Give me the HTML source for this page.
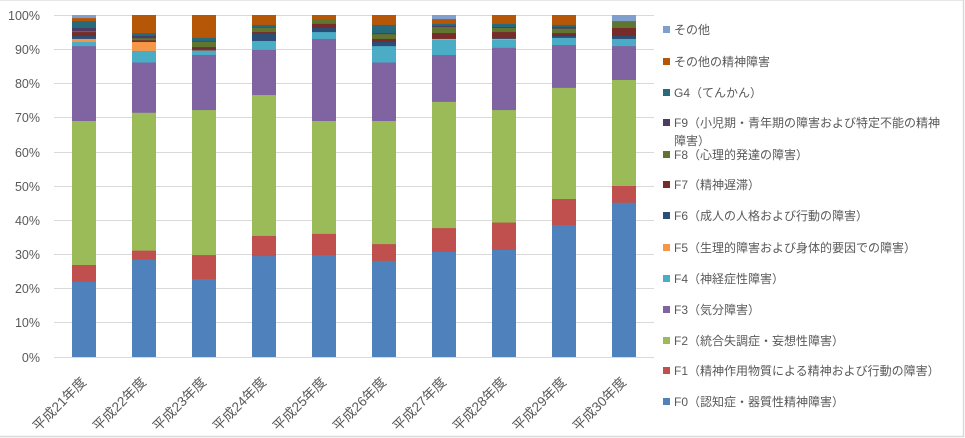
<!DOCTYPE html>
<html><head><meta charset="utf-8"><style>
html,body{margin:0;padding:0;background:#fff;}
svg{display:block;}
text{font-family:"Liberation Sans","Noto Sans CJK JP",sans-serif;fill:#595959;}
</style></head><body>
<svg width="965" height="438" viewBox="0 0 965 438" xmlns="http://www.w3.org/2000/svg">
<rect x="0" y="0" width="965" height="438" fill="#fff"/>
<!-- border -->
<line x1="0" y1="0.5" x2="964" y2="0.5" stroke="#e6e6e6" stroke-width="1"/>
<line x1="963.5" y1="0" x2="963.5" y2="437" stroke="#d9d9d9" stroke-width="1.5"/>
<line x1="0" y1="436.5" x2="964" y2="436.5" stroke="#d9d9d9" stroke-width="1.5"/>
<!-- gridlines -->
<g stroke="#d9d9d9" stroke-width="1">
<line x1="54" y1="15.5" x2="654" y2="15.5"/>
<line x1="54" y1="49.5" x2="654" y2="49.5"/>
<line x1="54" y1="83.5" x2="654" y2="83.5"/>
<line x1="54" y1="117.5" x2="654" y2="117.5"/>
<line x1="54" y1="152.5" x2="654" y2="152.5"/>
<line x1="54" y1="186.5" x2="654" y2="186.5"/>
<line x1="54" y1="220.5" x2="654" y2="220.5"/>
<line x1="54" y1="254.5" x2="654" y2="254.5"/>
<line x1="54" y1="288.5" x2="654" y2="288.5"/>
<line x1="54" y1="322.5" x2="654" y2="322.5"/>
<line x1="54" y1="357.5" x2="654" y2="357.5"/>
</g>
<!-- y labels -->
<g font-size="12.5" text-anchor="end">
<text x="40" y="20">100%</text>
<text x="40" y="54">90%</text>
<text x="40" y="88">80%</text>
<text x="40" y="122">70%</text>
<text x="40" y="157">60%</text>
<text x="40" y="191">50%</text>
<text x="40" y="225">40%</text>
<text x="40" y="259">30%</text>
<text x="40" y="293">20%</text>
<text x="40" y="327">10%</text>
<text x="40" y="362">0%</text>
</g>
<!-- bars: drawn top category first (full height), lower ones over -->
<!-- Bar1 -->
<g>
<rect x="72" y="15" width="24" height="342" fill="#7F9FD0"/>
<rect x="72" y="18.08" width="24" height="338.92" fill="#B65708"/>
<rect x="72" y="21.16" width="24" height="335.84" fill="#276A7C"/>
<rect x="72" y="28.0" width="24" height="329" fill="#4D3B62"/>
<rect x="72" y="31.07" width="24" height="325.93" fill="#5F7530"/>
<rect x="72" y="32.1" width="24" height="324.9" fill="#772C2A"/>
<rect x="72" y="35.86" width="24" height="321.14" fill="#2C4D75"/>
<rect x="72" y="38.94" width="24" height="318.06" fill="#F79646"/>
<rect x="72" y="42.02" width="24" height="314.98" fill="#4BACC6"/>
<rect x="72" y="46.12" width="24" height="310.88" fill="#8064A2"/>
<rect x="72" y="121.02" width="24" height="235.98" fill="#9BBB59"/>
<rect x="72" y="265.0" width="24" height="92" fill="#C0504D"/>
<rect x="72" y="281.76" width="24" height="75.24" fill="#4F81BD"/>
</g>
<!-- Bar2 -->
<g>
<rect x="132" y="15" width="24" height="342" fill="#B65708"/>
<rect x="132" y="33.13" width="24" height="323.87" fill="#276A7C"/>
<rect x="132" y="35.86" width="24" height="321.14" fill="#4D3B62"/>
<rect x="132" y="38.26" width="24" height="318.74" fill="#5F7530"/>
<rect x="132" y="40.31" width="24" height="316.69" fill="#772C2A"/>
<rect x="132" y="41.33" width="24" height="315.67" fill="#2C4D75"/>
<rect x="132" y="42.02" width="24" height="314.98" fill="#F79646"/>
<rect x="132" y="50.91" width="24" height="306.09" fill="#4BACC6"/>
<rect x="132" y="62.54" width="24" height="294.46" fill="#8064A2"/>
<rect x="132" y="112.81" width="24" height="244.19" fill="#9BBB59"/>
<rect x="132" y="250.64" width="24" height="106.36" fill="#C0504D"/>
<rect x="132" y="259.53" width="24" height="97.47" fill="#4F81BD"/>
</g>
<!-- Bar3 -->
<g>
<rect x="192" y="15" width="24" height="342" fill="#B65708"/>
<rect x="192" y="37.91" width="24" height="319.09" fill="#276A7C"/>
<rect x="192" y="40.99" width="24" height="316.01" fill="#4D3B62"/>
<rect x="192" y="41.68" width="24" height="315.32" fill="#5F7530"/>
<rect x="192" y="47.15" width="24" height="309.85" fill="#772C2A"/>
<rect x="192" y="48.86" width="24" height="308.14" fill="#2C4D75"/>
<rect x="192" y="50.57" width="24" height="306.43" fill="#F79646"/>
<rect x="192" y="50.91" width="24" height="306.09" fill="#4BACC6"/>
<rect x="192" y="55.01" width="24" height="301.99" fill="#8064A2"/>
<rect x="192" y="110.08" width="24" height="246.92" fill="#9BBB59"/>
<rect x="192" y="255.08" width="24" height="101.92" fill="#C0504D"/>
<rect x="192" y="279.02" width="24" height="77.98" fill="#4F81BD"/>
</g>
<!-- Bar4 -->
<g>
<rect x="252" y="15" width="24" height="342" fill="#B65708"/>
<rect x="252" y="24.92" width="24" height="332.08" fill="#276A7C"/>
<rect x="252" y="27.65" width="24" height="329.35" fill="#4D3B62"/>
<rect x="252" y="28.0" width="24" height="329" fill="#5F7530"/>
<rect x="252" y="32.1" width="24" height="324.9" fill="#772C2A"/>
<rect x="252" y="33.13" width="24" height="323.87" fill="#2C4D75"/>
<rect x="252" y="40.99" width="24" height="316.01" fill="#4BACC6"/>
<rect x="252" y="49.88" width="24" height="307.12" fill="#8064A2"/>
<rect x="252" y="95.03" width="24" height="261.97" fill="#9BBB59"/>
<rect x="252" y="235.93" width="24" height="121.07" fill="#C0504D"/>
<rect x="252" y="256.11" width="24" height="100.89" fill="#4F81BD"/>
</g>
<!-- Bar5 -->
<g>
<rect x="312" y="15" width="24" height="342" fill="#B65708"/>
<rect x="312" y="19.1" width="24" height="337.9" fill="#5F7530"/>
<rect x="312" y="23.89" width="24" height="333.11" fill="#772C2A"/>
<rect x="312" y="28.0" width="24" height="329" fill="#2C4D75"/>
<rect x="312" y="32.1" width="24" height="324.9" fill="#4BACC6"/>
<rect x="312" y="38.94" width="24" height="318.06" fill="#8064A2"/>
<rect x="312" y="121.02" width="24" height="235.98" fill="#9BBB59"/>
<rect x="312" y="233.88" width="24" height="123.12" fill="#C0504D"/>
<rect x="312" y="255.08" width="24" height="101.92" fill="#4F81BD"/>
</g>
<!-- Bar6 -->
<g>
<rect x="372" y="15" width="24" height="342" fill="#B65708"/>
<rect x="372" y="24.92" width="24" height="332.08" fill="#276A7C"/>
<rect x="372" y="33.13" width="24" height="323.87" fill="#4D3B62"/>
<rect x="372" y="34.15" width="24" height="322.85" fill="#5F7530"/>
<rect x="372" y="38.94" width="24" height="318.06" fill="#772C2A"/>
<rect x="372" y="42.02" width="24" height="314.98" fill="#2C4D75"/>
<rect x="372" y="46.12" width="24" height="310.88" fill="#4BACC6"/>
<rect x="372" y="62.54" width="24" height="294.46" fill="#8064A2"/>
<rect x="372" y="121.02" width="24" height="235.98" fill="#9BBB59"/>
<rect x="372" y="244.14" width="24" height="112.86" fill="#C0504D"/>
<rect x="372" y="260.9" width="24" height="96.1" fill="#4F81BD"/>
</g>
<!-- Bar7 -->
<g>
<rect x="432" y="15" width="24" height="342" fill="#7F9FD0"/>
<rect x="432" y="19.1" width="24" height="337.9" fill="#B65708"/>
<rect x="432" y="23.89" width="24" height="333.11" fill="#276A7C"/>
<rect x="432" y="25.94" width="24" height="331.06" fill="#4D3B62"/>
<rect x="432" y="26.97" width="24" height="330.03" fill="#5F7530"/>
<rect x="432" y="33.13" width="24" height="323.87" fill="#772C2A"/>
<rect x="432" y="38.94" width="24" height="318.06" fill="#F79646"/>
<rect x="432" y="39.97" width="24" height="317.03" fill="#4BACC6"/>
<rect x="432" y="55.01" width="24" height="301.99" fill="#8064A2"/>
<rect x="432" y="101.87" width="24" height="255.13" fill="#9BBB59"/>
<rect x="432" y="228.07" width="24" height="128.93" fill="#C0504D"/>
<rect x="432" y="252.01" width="24" height="104.99" fill="#4F81BD"/>
</g>
<!-- Bar8 -->
<g>
<rect x="492" y="15" width="24" height="342" fill="#B65708"/>
<rect x="492" y="23.89" width="24" height="333.11" fill="#276A7C"/>
<rect x="492" y="26.97" width="24" height="330.03" fill="#4D3B62"/>
<rect x="492" y="28.0" width="24" height="329" fill="#5F7530"/>
<rect x="492" y="32.1" width="24" height="324.9" fill="#772C2A"/>
<rect x="492" y="38.26" width="24" height="318.74" fill="#2C4D75"/>
<rect x="492" y="38.94" width="24" height="318.06" fill="#F79646"/>
<rect x="492" y="39.97" width="24" height="317.03" fill="#4BACC6"/>
<rect x="492" y="47.83" width="24" height="309.17" fill="#8064A2"/>
<rect x="492" y="110.08" width="24" height="246.92" fill="#9BBB59"/>
<rect x="492" y="222.59" width="24" height="134.41" fill="#C0504D"/>
<rect x="492" y="249.95" width="24" height="107.05" fill="#4F81BD"/>
</g>
<!-- Bar9 -->
<g>
<rect x="552" y="15" width="24" height="342" fill="#B65708"/>
<rect x="552" y="24.92" width="24" height="332.08" fill="#276A7C"/>
<rect x="552" y="26.97" width="24" height="330.03" fill="#4D3B62"/>
<rect x="552" y="28.68" width="24" height="328.32" fill="#5F7530"/>
<rect x="552" y="33.13" width="24" height="323.87" fill="#772C2A"/>
<rect x="552" y="35.86" width="24" height="321.14" fill="#2C4D75"/>
<rect x="552" y="37.91" width="24" height="319.09" fill="#4BACC6"/>
<rect x="552" y="45.1" width="24" height="311.9" fill="#8064A2"/>
<rect x="552" y="87.85" width="24" height="269.15" fill="#9BBB59"/>
<rect x="552" y="199.0" width="24" height="158" fill="#C0504D"/>
<rect x="552" y="224.99" width="24" height="132.01" fill="#4F81BD"/>
</g>
<!-- Bar10 -->
<g>
<rect x="612" y="15" width="24" height="342" fill="#7F9FD0"/>
<rect x="612" y="21.16" width="24" height="335.84" fill="#5F7530"/>
<rect x="612" y="28.0" width="24" height="329" fill="#772C2A"/>
<rect x="612" y="35.86" width="24" height="321.14" fill="#2C4D75"/>
<rect x="612" y="38.94" width="24" height="318.06" fill="#4BACC6"/>
<rect x="612" y="46.12" width="24" height="310.88" fill="#8064A2"/>
<rect x="612" y="79.98" width="24" height="277.02" fill="#9BBB59"/>
<rect x="612" y="186.0" width="24" height="171" fill="#C0504D"/>
<rect x="612" y="202.76" width="24" height="154.24" fill="#4F81BD"/>
</g>
<!-- x labels -->
<g font-size="13.5" text-anchor="end">
<text transform="translate(87,383) rotate(-45)">平成21年度</text>
<text transform="translate(147,383) rotate(-45)">平成22年度</text>
<text transform="translate(207,383) rotate(-45)">平成23年度</text>
<text transform="translate(267,383) rotate(-45)">平成24年度</text>
<text transform="translate(327,383) rotate(-45)">平成25年度</text>
<text transform="translate(387,383) rotate(-45)">平成26年度</text>
<text transform="translate(447,383) rotate(-45)">平成27年度</text>
<text transform="translate(507,383) rotate(-45)">平成28年度</text>
<text transform="translate(567,383) rotate(-45)">平成29年度</text>
<text transform="translate(627,383) rotate(-45)">平成30年度</text>
</g>
<!-- legend -->
<g>
<rect x="663" y="26" width="7" height="7" fill="#7F9FD0"/>
<rect x="663" y="58" width="7" height="7" fill="#B65708"/>
<rect x="663" y="89" width="7" height="7" fill="#276A7C"/>
<rect x="663" y="119" width="7" height="7" fill="#4D3B62"/>
<rect x="663" y="151" width="7" height="7" fill="#5F7530"/>
<rect x="663" y="181" width="7" height="7" fill="#772C2A"/>
<rect x="663" y="212" width="7" height="7" fill="#2C4D75"/>
<rect x="663" y="244" width="7" height="7" fill="#F79646"/>
<rect x="663" y="275" width="7" height="7" fill="#4BACC6"/>
<rect x="663" y="306" width="7" height="7" fill="#8064A2"/>
<rect x="663" y="337" width="7" height="7" fill="#9BBB59"/>
<rect x="663" y="367" width="7" height="7" fill="#C0504D"/>
<rect x="663" y="398" width="7" height="7" fill="#4F81BD"/>
</g>
<g font-size="12">
<text x="674" y="34">その他</text>
<text x="674" y="66">その他の精神障害</text>
<text x="674" y="97">G4（てんかん）</text>
<text x="674" y="127">F9（小児期・青年期の障害および特定不能の精神</text>
<text x="674" y="145">障害）</text>
<text x="674" y="159">F8（心理的発達の障害）</text>
<text x="674" y="189">F7（精神遅滞）</text>
<text x="674" y="220">F6（成人の人格および行動の障害）</text>
<text x="674" y="252">F5（生理的障害および身体的要因での障害）</text>
<text x="674" y="283">F4（神経症性障害）</text>
<text x="674" y="314">F3（気分障害）</text>
<text x="674" y="345">F2（統合失調症・妄想性障害）</text>
<text x="674" y="375">F1（精神作用物質による精神および行動の障害）</text>
<text x="674" y="406">F0（認知症・器質性精神障害）</text>
</g>
</svg>
</body></html>
